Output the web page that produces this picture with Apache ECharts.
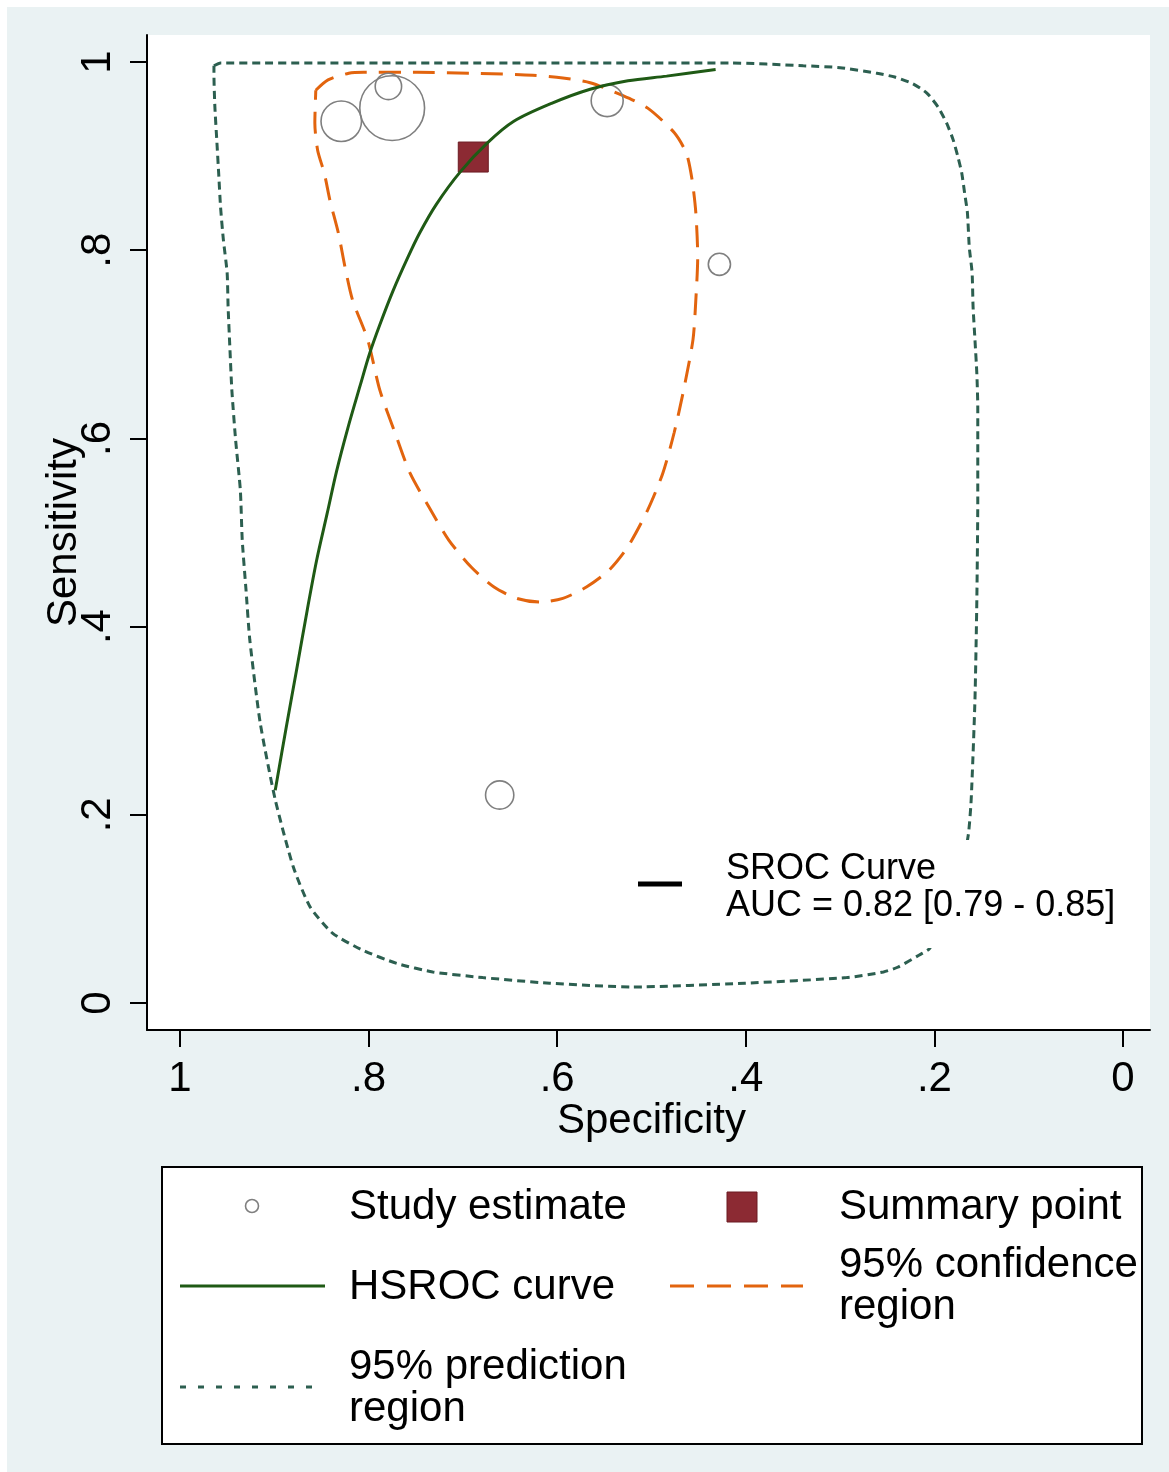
<!DOCTYPE html>
<html>
<head>
<meta charset="utf-8">
<script src="https://cdn.jsdelivr.net/npm/echarts@6/dist/echarts.min.js"></script>
<style>html,body{margin:0;padding:0;background:#fff}#c{width:1169px;height:1472px}</style>
</head>
<body>
<div id="c"></div>
<script>
// ---- data (specificity, sensitivity) ----
const studySpec = [0.829, 0.775, 0.779, 0.547, 0.428, 0.661];
const studySens = [0.937, 0.951, 0.974, 0.959, 0.785, 0.221];
const studyWeight = [1.6, 4.1, 0.68, 1.0, 0.48, 0.78];

const summarySpec = [0.689];
const summarySens = [0.899];

const hsrocSpec = [0.899,0.887,0.876,0.865,0.855,0.844,0.834,0.822,0.809,0.799,0.788,0.774,0.759,0.746,0.728,0.703,0.674,0.646,0.606,0.565,0.525,0.484,0.432];
const hsrocSens = [0.226,0.295,0.356,0.418,0.471,0.520,0.565,0.611,0.656,0.690,0.721,0.757,0.791,0.818,0.849,0.883,0.914,0.937,0.956,0.971,0.980,0.985,0.992];

const confSpec = [0.856,0.843,0.821,0.805,0.748,0.687,0.626,0.594,0.565,0.532,0.504,0.476,0.463,0.457,0.453,0.451,0.453,0.456,0.466,0.476,0.488,0.504,0.525,0.545,0.569,0.594,0.618,0.643,0.667,0.691,0.715,0.736,0.756,0.772,0.788,0.801,0.817,0.825,0.832,0.841,0.847,0.854,0.857,0.856];
const confSens = [0.970,0.981,0.988,0.989,0.989,0.988,0.986,0.983,0.978,0.965,0.951,0.925,0.903,0.875,0.840,0.793,0.747,0.705,0.651,0.606,0.563,0.524,0.485,0.460,0.442,0.430,0.426,0.430,0.442,0.463,0.492,0.527,0.563,0.606,0.651,0.705,0.747,0.782,0.818,0.853,0.882,0.906,0.935,0.970];

const predSpec = [0.964,0.957,0.767,0.555,0.417,0.339,0.300,0.261,0.242,0.223,0.208,0.196,0.187,0.180,0.175,0.171,0.168,0.165,0.163,0.160,0.159,0.157,0.155,0.154,0.154,0.155,0.157,0.161,0.164,0.173,0.186,0.205,0.216,0.239,0.254,0.293,0.401,0.520,0.608,0.679,0.732,0.770,0.806,0.838,0.862,0.880,0.899,0.915,0.926,0.930,0.934,0.936,0.941,0.945,0.947,0.949,0.950,0.954,0.957,0.959,0.961,0.963,0.964,0.964];
const predSens = [0.996,0.999,0.999,0.999,0.999,0.996,0.994,0.988,0.984,0.977,0.967,0.952,0.935,0.917,0.899,0.882,0.861,0.840,0.803,0.776,0.740,0.705,0.669,0.633,0.535,0.428,0.322,0.216,0.179,0.131,0.094,0.058,0.051,0.038,0.033,0.027,0.021,0.017,0.021,0.027,0.033,0.042,0.056,0.074,0.102,0.145,0.216,0.298,0.386,0.439,0.492,0.545,0.598,0.651,0.694,0.740,0.776,0.811,0.846,0.882,0.917,0.952,0.986,0.996];

const tickValues = [0, 0.2, 0.4, 0.6, 0.8, 1];
const tickLabels = ['0', '.2', '.4', '.6', '.8', '1'];

const legendTexts = ['Study estimate', 'Summary point', 'HSROC curve', '95% confidence\nregion', '95% prediction\nregion'];
const srocText = ['SROC Curve', 'AUC = 0.82 [0.79 - 0.85]'];

// ---- helpers ----
const zip = (a, b) => a.map((v, i) => [v, b[i]]);
const FONT = '"Liberation Sans", Arial, Helvetica, sans-serif';
const C_PRED = '#2c5f50', C_CONF = '#e2640e', C_HSROC = '#1f5a15', C_SUM = '#8c2a33', C_STUDY = '#7f7f7f';
const fmt = v => {
  const r = Math.round(v * 10) / 10;
  const i = tickValues.findIndex(t => Math.abs(t - r) < 1e-6);
  return i >= 0 ? tickLabels[i] : '';
};

const chart = echarts.init(document.getElementById('c'), null, {renderer: 'canvas'});
const option = {
  backgroundColor: '#eaf2f3',
  animation: false,
  textStyle: {fontFamily: FONT},
  grid: [
    {left: 147, right: 19, top: 35, bottom: 442, show: true, backgroundColor: '#ffffff', borderWidth: 0},
    {left: 180, right: 46, top: 62, bottom: 469, show: false}
  ],
  xAxis: [
    {gridIndex: 0, type: 'value', min: 0, max: 1, position: 'bottom',
     axisLine: {show: true, onZero: false, lineStyle: {color: '#000', width: 2}},
     axisTick: {show: false}, axisLabel: {show: false}, splitLine: {show: false}},
    {gridIndex: 1, type: 'value', min: 0, max: 1, interval: 0.2, inverse: true, offset: 27, position: 'bottom',
     name: 'Specificity', nameLocation: 'middle', nameGap: 70, nameMoveOverlap: false,
     nameTextStyle: {fontSize: 42, color: '#000', fontFamily: FONT},
     axisLine: {show: false, onZero: false},
     axisTick: {show: true, length: 17, lineStyle: {color: '#000', width: 2}},
     axisLabel: {show: true, fontSize: 42, color: '#000', margin: 28, formatter: fmt, fontFamily: FONT},
     splitLine: {show: false}}
  ],
  yAxis: [
    {gridIndex: 0, type: 'value', min: 0, max: 1, position: 'left',
     axisLine: {show: true, onZero: false, lineStyle: {color: '#000', width: 2}},
     axisTick: {show: false}, axisLabel: {show: false}, splitLine: {show: false}},
    {gridIndex: 1, type: 'value', min: 0, max: 1, interval: 0.2, offset: 33, position: 'left',
     name: 'Sensitivity', nameLocation: 'middle', nameGap: 62, nameRotate: 90, nameMoveOverlap: false,
     nameTextStyle: {fontSize: 42, color: '#000', fontFamily: FONT},
     axisLine: {show: false, onZero: false},
     axisTick: {show: true, length: 17, lineStyle: {color: '#000', width: 2}},
     axisLabel: {show: true, fontSize: 42, color: '#000', margin: 28, rotate: 90, formatter: fmt, fontFamily: FONT},
     splitLine: {show: false}}
  ],
  series: [
    {name: '95% prediction region', type: 'line', xAxisIndex: 1, yAxisIndex: 1,
     data: zip(predSpec, predSens), symbol: 'none', smooth: 0.2, z: 2,
     lineStyle: {color: C_PRED, width: 3, type: [8, 5]}},
    {name: '95% confidence region', type: 'line', xAxisIndex: 1, yAxisIndex: 1,
     data: zip(confSpec, confSens), symbol: 'none', smooth: 0.25, z: 3,
     lineStyle: {color: C_CONF, width: 3, type: [22, 12]}},
    {name: 'Study estimate', type: 'scatter', xAxisIndex: 1, yAxisIndex: 1,
     data: studySpec.map((s, i) => [s, studySens[i], studyWeight[i]]),
     symbol: 'circle', symbolSize: d => 32 * Math.sqrt(d[2]), z: 4,
     itemStyle: {color: 'rgba(0,0,0,0)', borderColor: C_STUDY, borderWidth: 1.6, opacity: 1}},
    {name: 'Summary point', type: 'scatter', xAxisIndex: 1, yAxisIndex: 1,
     data: zip(summarySpec, summarySens), symbol: 'rect', symbolSize: 30, z: 5,
     itemStyle: {color: C_SUM, borderColor: '#6b1a22', borderWidth: 1, opacity: 1}},
    {name: 'HSROC curve', type: 'line', xAxisIndex: 1, yAxisIndex: 1,
     data: zip(hsrocSpec, hsrocSens), symbol: 'none', smooth: 0.3, z: 6,
     lineStyle: {color: C_HSROC, width: 3}}
  ],
  graphic: [
    // thin white margins on top and left
    {type: 'rect', shape: {x: 0, y: 0, width: 1169, height: 7}, style: {fill: '#fff'}, silent: true},
    {type: 'rect', shape: {x: 0, y: 0, width: 7, height: 1472}, style: {fill: '#fff'}, silent: true},
    // SROC annotation
    {type: 'rect', z: 100, shape: {x: 700, y: 840, width: 425, height: 108}, style: {fill: '#fff'}},
    {type: 'line', z: 101, shape: {x1: 638, y1: 884, x2: 682, y2: 884}, style: {stroke: '#000', lineWidth: 5}},
    {type: 'text', z: 101, style: {x: 726, y: 869, text: srocText[0], fontSize: 36, fontFamily: FONT, fill: '#000', verticalAlign: 'middle', textVerticalAlign: 'middle'}},
    {type: 'text', z: 101, style: {x: 726, y: 906, text: srocText[1], fontSize: 36, fontFamily: FONT, fill: '#000', verticalAlign: 'middle', textVerticalAlign: 'middle'}},
    // legend box
    {type: 'rect', z: 100, shape: {x: 162, y: 1167, width: 980, height: 277}, style: {fill: '#fff', stroke: '#000', lineWidth: 2}},
    {type: 'circle', z: 101, shape: {cx: 252, cy: 1206, r: 6.5}, style: {fill: 'none', stroke: C_STUDY, lineWidth: 1.6}},
    {type: 'rect', z: 101, shape: {x: 727, y: 1192, width: 30, height: 30}, style: {fill: C_SUM, stroke: '#6b1a22', lineWidth: 1}},
    {type: 'line', z: 101, shape: {x1: 180, y1: 1286, x2: 325, y2: 1286}, style: {stroke: C_HSROC, lineWidth: 3}},
    {type: 'line', z: 101, shape: {x1: 670, y1: 1286, x2: 803, y2: 1286}, style: {stroke: C_CONF, lineWidth: 3, lineDash: [24, 13]}},
    {type: 'line', z: 101, shape: {x1: 180, y1: 1387, x2: 316, y2: 1387}, style: {stroke: C_PRED, lineWidth: 3, lineDash: [6, 12]}},
    {type: 'text', z: 101, style: {x: 349, y: 1207, text: legendTexts[0], fontSize: 42, fontFamily: FONT, fill: '#000', verticalAlign: 'middle', textVerticalAlign: 'middle'}},
    {type: 'text', z: 101, style: {x: 839, y: 1207, text: legendTexts[1], fontSize: 42, fontFamily: FONT, fill: '#000', verticalAlign: 'middle', textVerticalAlign: 'middle'}},
    {type: 'text', z: 101, style: {x: 349, y: 1287, text: legendTexts[2], fontSize: 42, fontFamily: FONT, fill: '#000', verticalAlign: 'middle', textVerticalAlign: 'middle'}},
    {type: 'text', z: 101, style: {x: 839, y: 1286, text: legendTexts[3], fontSize: 42, fontFamily: FONT, lineHeight: 42, fill: '#000', verticalAlign: 'middle', textVerticalAlign: 'middle'}},
    {type: 'text', z: 101, style: {x: 349, y: 1388, text: legendTexts[4], fontSize: 42, fontFamily: FONT, lineHeight: 42, fill: '#000', verticalAlign: 'middle', textVerticalAlign: 'middle'}}
  ]
};
chart.setOption(option);
</script>
</body>
</html>
